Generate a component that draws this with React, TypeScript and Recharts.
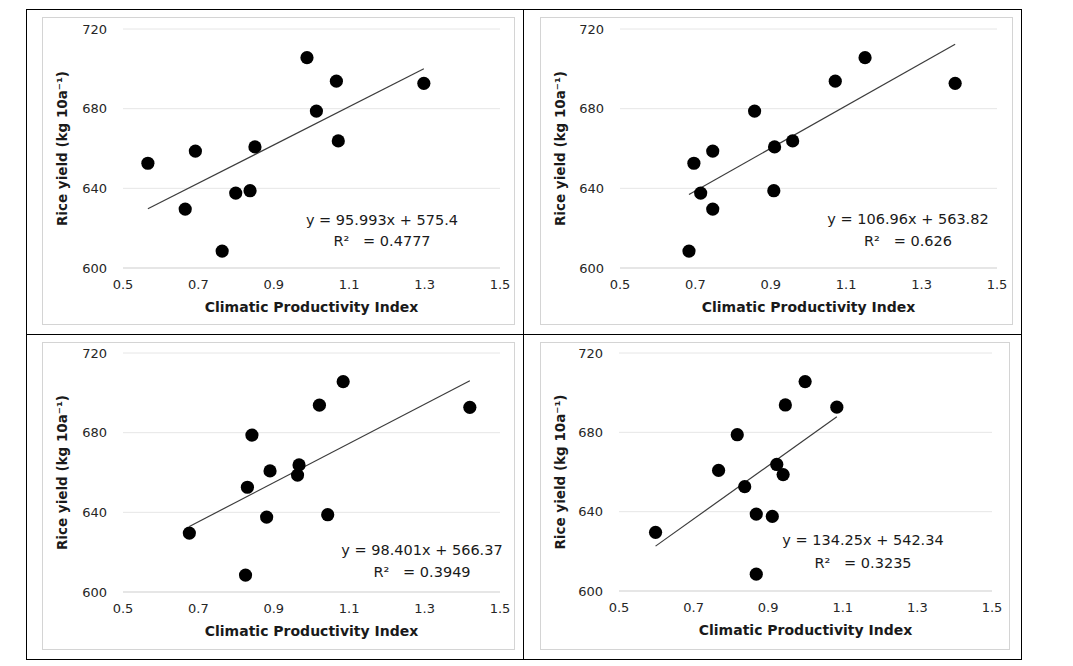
import React from "react";
import { ScatterChart, Scatter, XAxis, YAxis, CartesianGrid, Label } from "recharts";

// Rice yield (same 12 years in every panel)
const yieldValues = [705.6, 693.8, 692.7, 678.8, 663.8, 660.8, 658.7, 652.6, 638.8, 637.6, 629.6, 608.5];

// Climatic Productivity Index per panel
const cpiPanel1 = [0.988, 1.066, 1.298, 1.013, 1.071, 0.85, 0.692, 0.566, 0.837, 0.799, 0.665, 0.763];
const cpiPanel2 = [1.15, 1.071, 1.389, 0.857, 0.958, 0.91, 0.746, 0.696, 0.908, 0.714, 0.746, 0.683];
const cpiPanel3 = [1.084, 1.021, 1.42, 0.842, 0.967, 0.89, 0.963, 0.83, 1.043, 0.881, 0.676, 0.825];
const cpiPanel4 = [0.999, 0.946, 1.084, 0.817, 0.923, 0.767, 0.94, 0.837, 0.868, 0.911, 0.598, 0.868];

const slopes = [95.993, 106.96, 98.401, 134.25];
const intercepts = [575.4, 563.82, 566.37, 542.34];
const equationLabels = ["y = 95.993x + 575.4", "y = 106.96x + 563.82", "y = 98.401x + 566.37", "y = 134.25x + 542.34"];
const r2Labels = ["R²   = 0.4777", "R²   = 0.626", "R²   = 0.3949", "R²   = 0.3235"];

const xTicks = [0.5, 0.7, 0.9, 1.1, 1.3, 1.5];
const yTicks = [600, 640, 680, 720];
const xTitle = "Climatic Productivity Index";
const yTitle = "Rice yield (kg 10a⁻¹)";

const FONT = "'DejaVu Sans', sans-serif";

const panels = [
  { xs: cpiPanel1, fx: 42, fy: 17, fw: 473, fh: 308, ml: 81, mt: 12, mr: 15, mb: 57, ex: 382, ey1: 220, ey2: 241 },
  { xs: cpiPanel2, fx: 540, fy: 17, fw: 473, fh: 308, ml: 80, mt: 12, mr: 16, mb: 57, ex: 908, ey1: 219, ey2: 241 },
  { xs: cpiPanel3, fx: 42, fy: 342, fw: 473, fh: 308, ml: 81, mt: 11, mr: 15, mb: 58, ex: 422, ey1: 550, ey2: 572 },
  { xs: cpiPanel4, fx: 540, fy: 342, fw: 470, fh: 308, ml: 79, mt: 11, mr: 18, mb: 59, ex: 863, ey1: 540, ey2: 563 },
];

function Panel({ idx }: { idx: number }) {
  const cfg = panels[idx];
  const pts = cfg.xs.map((x, i) => ({ x, y: yieldValues[i] }));
  const xmin = Math.min(...cfg.xs);
  const xmax = Math.max(...cfg.xs);
  const trend = [
    { x: xmin, y: slopes[idx] * xmin + intercepts[idx] },
    { x: xmax, y: slopes[idx] * xmax + intercepts[idx] },
  ];
  const renderXTitle = (props: any) => {
    const vb = props.viewBox;
    return (
      <text x={vb.x + vb.width / 2} y={vb.y + 44} textAnchor="middle" fontSize={14} fontWeight={700} fill="#1a1a1a" fontFamily={FONT}>
        {xTitle}
      </text>
    );
  };
  const renderYTitle = (props: any) => {
    const vb = props.viewBox;
    const cx = vb.x + 20;
    const cy = vb.y + vb.height / 2;
    return (
      <text x={cx} y={cy} transform={`rotate(-90 ${cx} ${cy})`} textAnchor="middle" dominantBaseline="central" fontSize={13.5} fontWeight={700} fill="#1a1a1a" fontFamily={FONT}>
        {yTitle}
      </text>
    );
  };
  return (
    <>
      <div
        style={{
          position: "absolute",
          left: cfg.fx,
          top: cfg.fy,
          width: cfg.fw,
          height: cfg.fh,
          boxSizing: "border-box",
          border: "1.5px solid #d4d4d4",
        }}
      />
      <div style={{ position: "absolute", left: cfg.fx, top: cfg.fy }}>
        <ScatterChart width={cfg.fw} height={cfg.fh} margin={{ top: cfg.mt, right: cfg.mr, bottom: 0, left: 0 }}>
          <CartesianGrid horizontal vertical={false} stroke="#e6e6e6" />
          <XAxis
            type="number"
            dataKey="x"
            domain={[0.5, 1.5]}
            ticks={xTicks}
            tickFormatter={(v: number) => v.toFixed(1)}
            height={cfg.mb}
            tickLine={false}
            tickSize={0}
            tickMargin={12}
            axisLine={{ stroke: "#d9d9d9" }}
            tick={{ fontSize: 13, fill: "#262626", fontFamily: FONT }}
            allowDataOverflow
          >
            <Label content={renderXTitle} />
          </XAxis>
          <YAxis
            type="number"
            dataKey="y"
            domain={[600, 720]}
            ticks={yTicks}
            width={cfg.ml}
            tickLine={false}
            tickSize={0}
            tickMargin={16}
            axisLine={false}
            tick={{ fontSize: 13, fill: "#262626", fontFamily: FONT }}
            allowDataOverflow
          >
            <Label content={renderYTitle} />
          </YAxis>
          <Scatter
            data={trend}
            line={{ stroke: "#3c3c3c", strokeWidth: 1.2 }}
            shape={() => <g />}
            isAnimationActive={false}
            legendType="none"
          />
          <Scatter
            data={pts}
            shape={(p: any) => <circle cx={p.cx} cy={p.cy} r={6.6} fill="#000" />}
            isAnimationActive={false}
          />
        </ScatterChart>
      </div>
      {[equationLabels[idx], r2Labels[idx]].map((t, k) => (
        <div
          key={k}
          style={{
            position: "absolute",
            left: cfg.ex - 120,
            width: 240,
            top: (k === 0 ? cfg.ey1 : cfg.ey2) - 9,
            height: 18,
            lineHeight: "18px",
            textAlign: "center",
            fontSize: 14.5,
            color: "#1a1a1a",
            fontFamily: FONT,
            whiteSpace: "pre",
          }}
        >
          {t}
        </div>
      ))}
    </>
  );
}

export default function App() {
  return (
    <div style={{ position: "absolute", left: 0, top: 0, width: 1073, height: 666, background: "#fff", fontFamily: FONT }}>
      <div style={{ position: "absolute", left: 26, top: 9, width: 996, height: 651, boxSizing: "border-box", border: "1px solid #000" }} />
      <div style={{ position: "absolute", left: 523, top: 9, width: 1, height: 651, background: "#000" }} />
      <div style={{ position: "absolute", left: 26, top: 334, width: 996, height: 1, background: "#000" }} />
      {panels.map((_, i) => (
        <Panel key={i} idx={i} />
      ))}
    </div>
  );
}
